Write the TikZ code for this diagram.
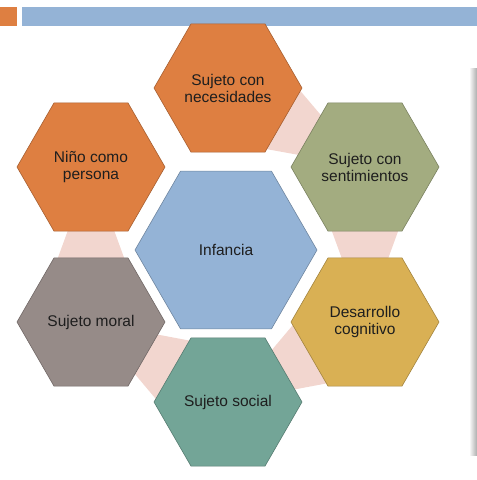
\documentclass[tikz,border=0pt]{standalone}
\usepackage{fontspec}
\setmainfont{Liberation Sans}
\usetikzlibrary{shapes.geometric,calc,backgrounds}

\definecolor{barblue}{RGB}{148,179,214}
\definecolor{hexorange}{RGB}{222,127,65}
\definecolor{hexolive}{RGB}{163,172,128}
\definecolor{hexgold}{RGB}{217,176,84}
\definecolor{hexteal}{RGB}{115,165,151}
\definecolor{hexgray}{RGB}{150,139,136}
\definecolor{linkpink}{RGB}{242,214,207}
\definecolor{labelgray}{RGB}{30,30,30}

\tikzset{
    hexa/.style={regular polygon, regular polygon sides=6, minimum size=148pt, inner sep=0pt,
        draw=#1!75!black, fill=#1, line width=0.6pt, align=center, text=labelgray,
        font=\fontsize{15.5}{17}\selectfont},
    link/.style={fill=linkpink}
}

% trapezoid between two neighbouring hexagons, wide end at the first one
\newcommand{\linkshape}[2]{
    \fill[link] ($(#1.center)!0.31!(#2.center)!39pt!90:(#2.center)$)
        -- ($(#1.center)!0.69!(#2.center)!17.5pt!90:(#2.center)$)
        -- ($(#1.center)!0.69!(#2.center)!17.5pt!-90:(#2.center)$)
        -- ($(#1.center)!0.31!(#2.center)!39pt!-90:(#2.center)$) -- cycle;
}

\begin{document}
\begin{tikzpicture}[x=1pt, y=-1pt]
    \useasboundingbox (0, 0) rectangle (477, 480);

    \fill[hexorange] (0, 7) rectangle (17, 25.5);
    \fill[barblue] (22, 7) rectangle (477, 25.5);

    \shade[left color=white, right color=gray!65] (469, 68) rectangle (477, 455);

    \node[hexa=hexorange] (nece) at (228, 88) {Sujeto con\\necesidades};
    \node[hexa=hexolive] (senti) at (365, 167) {Sujeto con\\sentimientos};
    \node[hexa=hexgold] (desa) at (365, 322) {Desarrollo\\cognitivo};
    \node[hexa=hexteal] (social) at (228, 402) {Sujeto social};
    \node[hexa=hexgray] (moral) at (91, 322) {Sujeto moral};
    \node[hexa=hexorange] (nino) at (91, 167) {Niño como\\persona};

    \node[hexa=barblue, minimum size=182pt] (infancia) at (226, 250) {Infancia};

    \begin{pgfonlayer}{background}
        \linkshape{nece}{senti}
        \linkshape{senti}{desa}
        \linkshape{desa}{social}
        \linkshape{social}{moral}
        \linkshape{moral}{nino}
    \end{pgfonlayer}
\end{tikzpicture}
\end{document}
